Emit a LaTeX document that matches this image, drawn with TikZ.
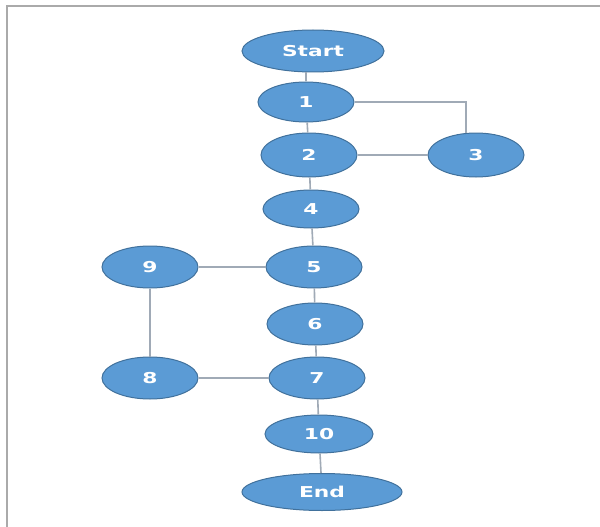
\documentclass[tikz,border=0pt]{standalone}
\usepackage{fontspec}
\setmainfont{DejaVu Sans}
\usepackage{tikz}
\usetikzlibrary{shapes.geometric}

\definecolor{blockfill}{RGB}{91,155,213}
\definecolor{blockedge}{RGB}{65,113,156}
\definecolor{linkgray}{RGB}{160,170,182}
\definecolor{framegray}{RGB}{170,170,170}

% stretched bold labels
\newcommand{\wide}[1]{\scalebox{1.45}[1]{#1}}

\tikzset{state/.style={draw=blockedge,fill=blockfill,line width=1pt,shape=ellipse,
    inner sep=0pt,minimum width=96pt,minimum height=42pt,text=white,
    font=\fontsize{15}{18}\selectfont\bfseries},
  link/.style={draw=linkgray,line width=1.6pt}}

\begin{document}
\begin{tikzpicture}[x=1pt, y=-1pt]
    \useasboundingbox (0, 0) rectangle (600, 527);
    \draw [framegray, line width=1.2pt] (7, 527) -- (7, 6) -- (600, 6);

    \node [state, minimum width=142pt] (start) at (313, 51) {\wide{Start}};
    \node [state, minimum height=40pt] (one) at (306, 102) {\wide{1}};
    \node [state, minimum height=44pt] (two) at (309, 155) {\wide{2}};
    \node [state, minimum height=44pt] (three) at (476, 155) {\wide{3}};
    \node [state, minimum height=38pt] (four) at (311, 209) {\wide{4}};
    \node [state] (five) at (314, 267) {\wide{5}};
    \node [state] (nine) at (150, 267) {\wide{9}};
    \node [state] (six) at (315, 324) {\wide{6}};
    \node [state] (seven) at (317, 378) {\wide{7}};
    \node [state] (eight) at (150, 378) {\wide{8}};
    \node [state, minimum width=108pt, minimum height=38pt] (ten) at (319, 434) {\wide{10}};
    \node [state, minimum width=160pt, minimum height=37pt] (end) at (322, 492) {\wide{End}};

    \draw [link] (one.north) -- (one.north |- start.south);
    \draw [link] (one) -- (two);
    \draw [link] (one.east) -| (three.115);
    \draw [link] (two) -- (three);
    \draw [link] (two) -- (four);
    \draw [link] (four) -- (five);
    \draw [link] (five) -- (nine);
    \draw [link] (nine) -- (eight);
    \draw [link] (five) -- (six);
    \draw [link] (six) -- (seven);
    \draw [link] (eight) -- (seven);
    \draw [link] (seven) -- (ten);
    \draw [link] (ten) -- (end);
\end{tikzpicture}
\end{document}
